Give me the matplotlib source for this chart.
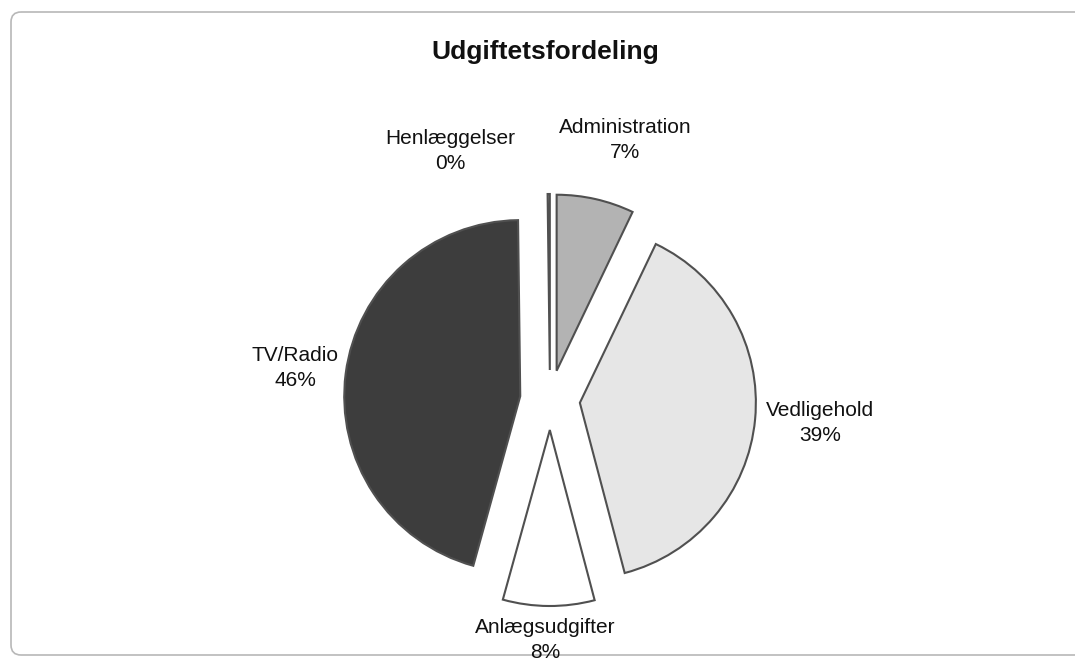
import matplotlib.pyplot as plt
from matplotlib.patches import FancyBboxPatch

plt.rcParams['font.family'] = ['Liberation Sans', 'DejaVu Sans']

# chart data (clockwise from 12 o'clock)
categories = ['Administration', 'Vedligehold', 'Anlægsudgifter', 'TV/Radio', 'Henlæggelser']
values = [7.1, 38.8, 8.4, 45.5, 0.2]
colors = ['#b3b3b3', '#e6e6e6', '#ffffff', '#3d3d3d', '#ffffff']
pct_labels = ['7%', '39%', '8%', '46%', '0%']

# label centres in pixel space (layout only)
label_xy = [(625, 140), (820, 423), (545, 640), (295, 368), (450, 151)]

W, H = 1075, 660
fig = plt.figure(figsize=(W / 100, H / 100), dpi=100)
ax = fig.add_axes([0, 0, 1, 1])

# frame around chart area
frame = FancyBboxPatch((11, 12), 1080, 643, boxstyle='round,pad=0,rounding_size=10',
                       fill=False, edgecolor='#b8b8b8', linewidth=1.2,
                       transform=ax.transData, clip_on=False)
ax.add_patch(frame)

radius = 176
# y-axis is inverted below, so counterclock=True appears clockwise
wedges, _ = ax.pie(values, colors=colors, startangle=-90, counterclock=True,
                   center=(550, 400), radius=radius,
                   explode=[30] * len(values),
                   wedgeprops=dict(edgecolor='#505050', linewidth=1.5),
                   frame=True)
ax.set_xlim(0, W)
ax.set_ylim(H, 0)
ax.set_aspect('equal')
ax.axis('off')

for name, pct, (x, y) in zip(categories, pct_labels, label_xy):
    ax.text(x, y, f'{name}\n{pct}', ha='center', va='center', fontsize=15,
            color='#111111', linespacing=1.35)

ax.text(545, 52, 'Udgiftetsfordeling', ha='center', va='center',
        fontsize=19, fontweight='bold', color='#111111')

fig.savefig('out.png', dpi=100)
